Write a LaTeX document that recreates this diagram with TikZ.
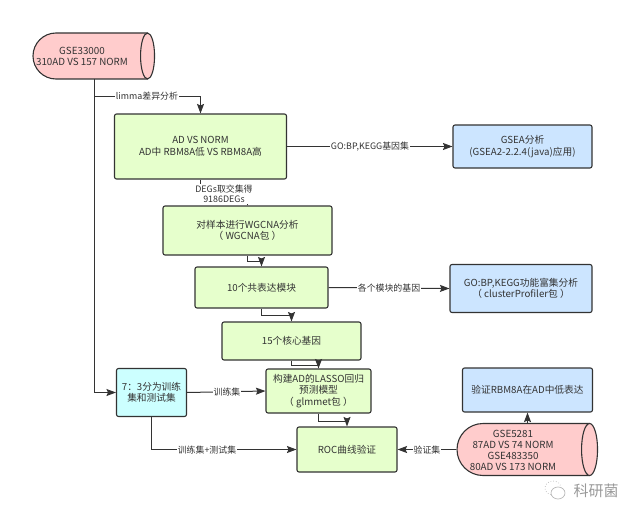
\documentclass[tikz,border=0pt]{standalone}
\usepackage{fontspec}
\setmainfont{Noto Sans CJK SC}
\usepackage{xcolor}
\usepackage{tikz}
\usetikzlibrary{shapes,arrows.meta}

\definecolor{inkgray}{HTML}{333333}
\definecolor{sampleRed}{HTML}{FFCCCC}
\definecolor{stepGreen}{HTML}{E6FFCC}
\definecolor{splitCyan}{HTML}{CCFFFF}
\definecolor{enrichBlue}{HTML}{CCE5FF}

\tikzset{
    stepbox/.style={
        draw=inkgray,
        line width=1.1pt,
        rounded corners=2pt,
        fill=stepGreen,
        text=inkgray,
        align=center,
        inner sep=0pt,
        font=\fontsize{9.7}{11.5}\selectfont
    },
    splitbox/.style={stepbox, fill=splitCyan},
    enrichbox/.style={stepbox, fill=enrichBlue},
    dbbody/.style={
        rounded rectangle,
        rounded rectangle right arc=none,
        draw=inkgray,
        line width=1.1pt,
        fill=sampleRed,
        inner sep=0pt
    },
    dbend/.style={
        ellipse,
        draw=inkgray,
        line width=1.1pt,
        fill=sampleRed,
        inner sep=0pt
    },
    dbtext/.style={
        text=inkgray,
        align=center,
        inner sep=0pt,
        font=\fontsize{9.8}{11}\selectfont
    },
    flow/.style={
        -{Stealth[length=9.5pt,width=7pt,inset=1.5pt]},
        draw=inkgray,
        line width=1pt
    },
    flowlabel/.style={
        fill=white,
        text=inkgray,
        align=center,
        inner sep=1pt,
        font=\fontsize{8.9}{10.5}\selectfont
    }
}

\begin{document}
\begin{tikzpicture}[x=1pt,y=-1pt]
    \useasboundingbox (0,0) rectangle (640,519);

    \node[dbbody, minimum width=114pt, minimum height=46pt] (gsethirty) at (90,56) {};
    \node[dbend, minimum width=14pt, minimum height=46pt] (gsethirtyend) at (gsethirty.east) {};
    \node[dbtext] (gsethirtytext) at (82,56) {GSE33000\\310AD VS 157 NORM};

    \node[stepbox, minimum width=172pt, minimum height=65pt] (adnorm) at (200.5,146.5) {AD VS NORM\\AD中 RBM8A低 VS RBM8A高};
    \node[stepbox, minimum width=169pt, minimum height=49pt] (wgcna) at (247.5,230.5) {对样本进行WGCNA分析\\（ WGCNA包 ）};
    \node[stepbox, minimum width=133pt, minimum height=41pt] (modules) at (261.5,287.5) {10个共表达模块};
    \node[stepbox, minimum width=139pt, minimum height=38pt] (hubgenes) at (291.5,341) {15个核心基因};
    \node[stepbox, minimum width=105pt, minimum height=44pt] (lasso) at (318.5,391) {构建AD的LASSO回归\\预测模型\\（ glmmet包 ）};
    \node[stepbox, minimum width=100pt, minimum height=45pt] (roc) at (347,449.5) {ROC曲线验证};
    \node[splitbox, minimum width=70pt, minimum height=48pt] (split) at (151.5,392.5) {7：3分为训练\\集和测试集};
    \node[enrichbox, minimum width=139pt, minimum height=43pt] (gsea) at (522.5,146.5) {GSEA分析\\(GSEA2-2.2.4(java)应用)};
    \node[enrichbox, minimum width=142pt, minimum height=48pt] (goterms) at (521,288.5) {GO:BP,KEGG功能富集分析\\（ clusterProfiler包 ）};
    \node[enrichbox, minimum width=130pt, minimum height=44pt] (verify) at (527.5,390) {验证RBM8A在AD中低表达};

    \node[dbbody, minimum width=132pt, minimum height=52pt] (gsefive) at (523,449.5) {};
    \node[dbend, minimum width=16pt, minimum height=52pt] (gsefiveend) at (gsefive.east) {};
    \node[dbtext] (gsefivetext) at (513,450) {GSE5281\\87AD VS 74 NORM\\GSE483350\\80AD VS 173 NORM};

    \coordinate (trunktop) at (94.5,79);
    \coordinate (trunkbranch) at (94.5,96.5);
    \coordinate (trunkbend) at (94.5,392.5);

    \draw[
        draw=inkgray,
        line width=1pt
    ] (trunktop) to (trunkbranch);

    \draw[
        flow
    ] (trunkbranch) -- (trunkbend) to (split.west);

    \draw[
        flow
    ] (trunkbranch) -| (adnorm.north);

    \draw[
        flow
    ] (adnorm.south) -- ++(0,14) -| (wgcna.north);

    \draw[
        flow
    ] (adnorm.east) to (gsea.west);

    \draw[
        flow
    ] (wgcna.south) -- ++(0,6) -| (modules.north);

    \draw[
        flow
    ] (modules.east) to (goterms.west);

    \draw[
        flow
    ] (modules.south) -- ++(0,7) -| (hubgenes.north);

    \draw[
        flow
    ] (hubgenes.south) -- ++(0,4.5) -| (lasso.north);

    \draw[
        flow
    ] (lasso.south) -- ++(0,8) -| (roc.north);

    \draw[
        flow
    ] (split.east) to (lasso.west);

    \draw[
        flow
    ] (split.south) |- (roc.west);

    \draw[
        flow
    ] (gsefive.west) to (roc.east);

    \draw[
        flow
    ] (verify.south |- gsefive.north) to (verify.south);

    \node[flowlabel] (limmalabel) at (147,96.5) {limma差异分析};
    \node[flowlabel] (degslabel) at (224,194) {DEGs取交集得\\9186DEGs};
    \node[flowlabel] (genesetlabel) at (370,146.5) {GO:BP,KEGG基因集};
    \node[flowlabel] (modulelabel) at (389,288) {各个模块的基因};
    \node[flowlabel] (trainlabel) at (227,392.5) {训练集};
    \node[flowlabel] (bothlabel) at (207,450) {训练集+测试集};
    \node[flowlabel] (validlabel) at (427,450) {验证集};

    \draw[
        draw=gray!55,
        line width=0.7pt,
        dotted
    ] (553,488) ellipse (8pt and 7pt);

    \draw[
        draw=gray!55,
        line width=0.7pt,
        fill=white
    ] (558,493) ellipse (7pt and 6pt);

    \node[text=gray!80, inner sep=0pt, font=\fontsize{15}{15}\selectfont] (brandmark) at (596,491) {科研菌};
\end{tikzpicture}
\end{document}
